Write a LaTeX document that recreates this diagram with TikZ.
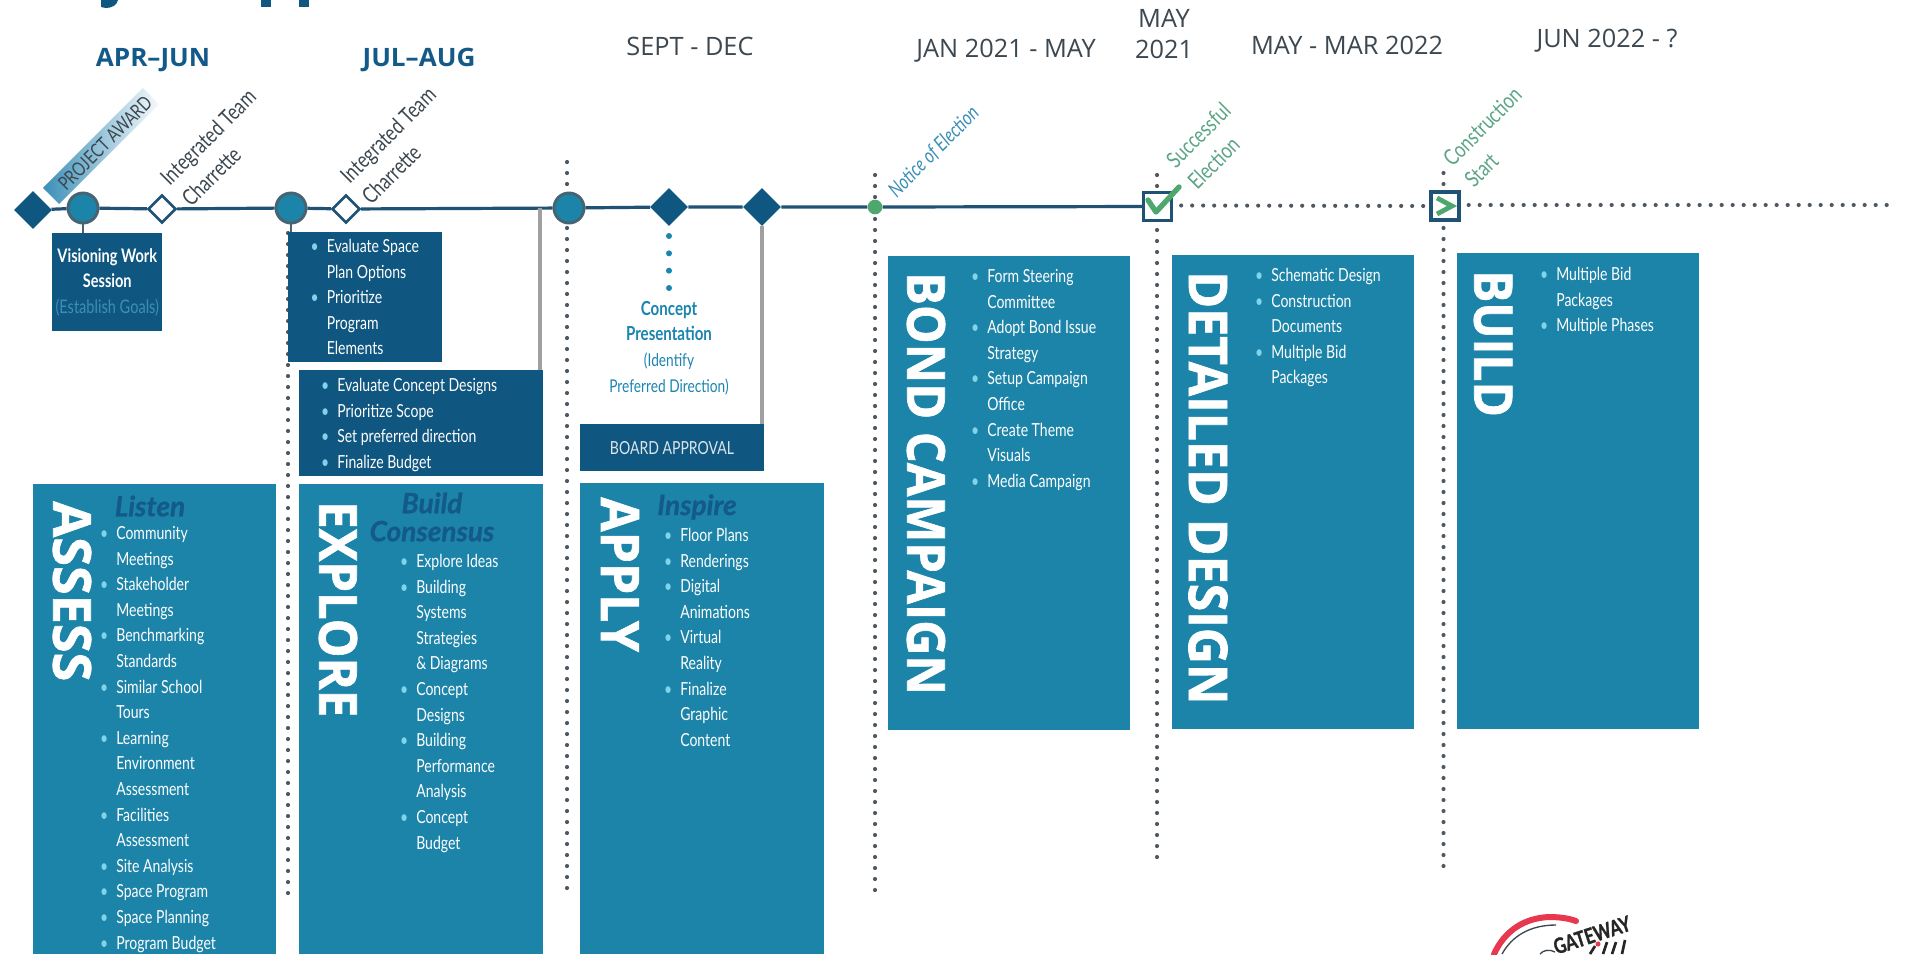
\documentclass[tikz,border=0pt]{standalone}
\usepackage{fontspec}
\usetikzlibrary{shapes.geometric,backgrounds}
\newfontfamily\cond[FakeStretch=0.78]{Lato}
\newfontfamily\subf[FakeStretch=1.0,FakeBold=0.8]{Lato}
\newfontfamily\headf[FakeStretch=1.0]{Open Sans}
\newfontfamily\boldf[FakeStretch=1.03]{Open Sans}
\newfontfamily\titlef[FakeBold=1.3]{Open Sans}
\newfontfamily\logof[FakeStretch=0.78,FakeBold=1.2]{Lato}
\definecolor{teal1}{HTML}{1B84A8}
\definecolor{navy1}{HTML}{0F5680}
\definecolor{line1}{HTML}{1F5275}
\definecolor{ring1}{HTML}{466472}
\definecolor{dot1}{HTML}{4F5860}
\definecolor{bull}{HTML}{7FD3EA}
\definecolor{sub1}{HTML}{145A88}
\definecolor{gray1}{HTML}{A0A0A0}
\definecolor{lab1}{HTML}{3C4750}
\definecolor{grn1}{HTML}{4EA86E}
\definecolor{grn2}{HTML}{5AA583}
\definecolor{blu1}{HTML}{3B8FB8}
\definecolor{con1}{HTML}{1B85B0}
\definecolor{red1}{HTML}{E8384F}
\newcommand\bi[1]{\llap{\textcolor{bull}{•}\hspace{6pt}}#1}
\tikzset{
  tealbox/.style={fill=teal1,draw=none,inner sep=0},
  navybox/.style={fill=navy1,draw=none,inner sep=0},
  lst/.style={anchor=north west,inner sep=0,align=left,text=white,font=\cond\fontsize{13.5pt}{19.2pt}\selectfont},
  vtitle/.style={anchor=west,rotate=-90,inner sep=0,text=white,font=\titlef\bfseries\fontsize{40pt}{40pt}\selectfont},
  bigdate/.style={inner sep=0,text=sub1,font=\boldf\bfseries\fontsize{19pt}{19pt}\selectfont},
  plaindate/.style={inner sep=0,text=lab1,font=\headf\fontsize{19pt}{23.5pt}\selectfont,align=center},
  milestone/.style={inner sep=0,rotate=45,align=left,font=\cond\fontsize{16.8pt}{22.8pt}\selectfont},
  subhead/.style={inner sep=0,text=sub1,align=center,font=\subf\bfseries\itshape\fontsize{21pt}{21pt}\selectfont},
  bigd/.style={diamond,fill=navy1,inner sep=0,minimum width=28.5pt,minimum height=28.5pt},
  whited/.style={diamond,fill=white,draw=line1,line width=1.9pt,inner sep=0,minimum width=21pt,minimum height=21pt},
  bigc/.style={circle,fill=teal1,draw=ring1,line width=2.2pt,inner sep=0,minimum size=22.5pt},
  sqbox/.style={rectangle,fill=white,draw=line1,line width=2.5pt,inner sep=0,minimum size=21pt},
  tl/.style={draw=line1,line width=2.4pt},
  dotv/.style={draw=dot1,line width=3.1pt,line cap=round,dash pattern=on 0pt off 8.25pt},
  grayv/.style={draw=gray1,line width=3pt},
}
\begin{document}
\begin{tikzpicture}[x=0.75pt,y=-0.75pt]
\useasboundingbox (0,0) rectangle (1912,954);
\begin{scope}[on background layer]
\fill[white] (0,0) rectangle (1912,954);
\end{scope}
\clip (0,0) rectangle (1912,954);

% cut-off title fragments
\fill[navy1] (101,0) -- (118,0) .. controls (117,5) and (112,8) .. (106,8) -- (101,7) -- cycle;
\fill[navy1] (261,0) rectangle (271,7);
\fill[navy1] (299,0) rectangle (309,7);

% dates
\node[bigdate] (d1) at (153,60) {APR–JUN};
\node[bigdate] (d2) at (419,60) {JUL–AUG};
\node[plaindate] (d3) at (690,46) {SEPT - DEC};
\node[plaindate] (d4) at (1006,51) {JAN 2021 - MAY};
\node[plaindate] (d5) at (1164,34) {MAY\\2021};
\node[plaindate] (d6) at (1347,45) {MAY - MAR 2022};
\node[plaindate] (d7) at (1607,41) {JUN 2022 - ?};

% boxes
\path[tealbox] (33,484) rectangle (276,954);
\path[tealbox] (299,484) rectangle (543,954);
\path[tealbox] (580,483) rectangle (824,954);
\node[tealbox,minimum width=181pt,minimum height=355.5pt,anchor=north west] (bond) at (888,256) {};
\node[tealbox,minimum width=181pt,minimum height=355.5pt,anchor=north west] (detail) at (1172,255) {};
\node[tealbox,minimum width=181.5pt,minimum height=356.5pt,anchor=north west] (build) at (1457,253) {};
\node[navybox,minimum width=82.5pt,minimum height=73.5pt,anchor=north west] (vis) at (52,233) {};
\node[navybox,minimum width=115.5pt,minimum height=97.5pt,anchor=north west] (evalb) at (288,232) {};
\node[navybox,minimum width=182.5pt,minimum height=79pt,anchor=north west] (concb) at (299,370) {};
\node[navybox,minimum width=138pt,minimum height=35pt,anchor=north west] (board) at (580,424) {};

% timeline nodes
\node[bigd] (m0) at (33,210) {};
\node[bigc] (c1) at (83,208) {};
\node[whited] (w1) at (162,209) {};
\node[bigc] (c2) at (291,208) {};
\node[whited] (w2) at (346,209) {};
\node[bigc] (c3) at (569,208) {};
\node[bigd] (m1) at (669,207) {};
\node[bigd] (m2) at (762,207) {};
\node[circle,fill=grn1,inner sep=0,minimum size=11pt] (g1) at (875,207) {};
\node[sqbox] (s1) at (1157.5,206.5) {};
\node[sqbox] (s2) at (1445,206) {};
\coordinate (tend) at (1896,205);
\coordinate (t1) at (540,208);

% connectors
\begin{scope}[on background layer]
  \draw[dotv] (288,233) -- (288,897);
  \draw[dotv] (567,162) -- (567,897);
  \draw[dotv] (875,175) -- (875,897);
  \draw[dotv] (1157,175) -- (1157,867);
  \draw[dotv] (1443.5,173) -- (1443.5,867);
  \draw[tl] (m0) -- (c1) -- (w1) -- (c2) -- (w2) -- (c3) -- (m1) -- (m2) -- (g1) -- (s1);
  \draw[grayv] (t1) -- (concb.north -| t1);
  \draw[grayv] (m2) -- (board.north -| m2);
  \draw[draw=ring1,line width=2.2pt] (c1) -- (vis.north -| c1);
  \draw[draw=ring1,line width=2.2pt] (c2.south) -- (evalb.north -| c2);
\end{scope}
\draw[dotv] (s1.east) ++(8,-1) -- (s2.west);
\draw[dotv] (s2.east) ++(8,-1) -- (tend);
\coordinate (dtop) at (669,236);
\coordinate (dbot) at (669,290);
\draw[draw=con1,line width=4.5pt,line cap=round,dash pattern=on 0pt off 13pt] (dtop) -- (dbot);

% check and chevron
\draw[grn1,line width=4pt,line cap=round,line join=round] (1148,200) -- (1156,212) -- (1179,187);
\draw[grn1,line width=3.6pt,line join=miter] (1437,198) -- (1452,206) -- (1437,214);

% milestone labels
\node[rotate=45,inner sep=0,minimum width=106pt,minimum height=17pt,left color=blu1,right color=blu1!5] (pa) at (101,146) {};
\node[milestone,text=lab1,font=\cond\fontsize{14.5pt}{18pt}\selectfont] (pat) at (105,143) {PROJECT AWARD};
\node[milestone,text=lab1] (it1) at (218.6,147.6) {Integrated Team\\Charrette};
\node[milestone,text=lab1] (it2) at (398.6,145.6) {Integrated Team\\Charrette};
\node[milestone,text=blu1,font=\cond\fontsize{15.5pt}{18pt}\selectfont] (ne) at (934,152) {\itshape Notice of Election};
\node[milestone,text=grn2] (se) at (1209,146) {Successful\\Election};
\node[milestone,text=grn2] (cs) at (1493,137) {Construction\\Start};

% dark boxes text
\node[inner sep=0,align=center,text=white,font=\cond\bfseries\fontsize{14pt}{19.2pt}\selectfont] (vt) at (vis.center) {Visioning Work\\Session\\{\mdseries\color{blu1}(Establish Goals)}};
\node[lst] (el) at (326.5,239) {\bi{Evaluate Space}\\Plan Options\\\bi{Prioritize}\\Program\\Elements};
\node[lst] (cl) at (337,378) {\bi{Evaluate Concept Designs}\\\bi{Prioritize Scope}\\\bi{Set preferred direction}\\\bi{Finalize Budget}};
\node[inner sep=0,text=white!85!navy1,font=\cond\fontsize{13.5pt}{16pt}\selectfont] (bt) at (672,448) {BOARD APPROVAL};
\node[inner sep=0,align=center,text=con1,font=\cond\fontsize{14.5pt}{19.2pt}\selectfont] (cp) at (669,348) {{\bfseries Concept}\\{\bfseries Presentation}\\{\fontsize{13.2pt}{19.2pt}\selectfont (Identify}\\{\fontsize{13.2pt}{19.2pt}\selectfont Preferred Direction)}};

% vertical titles
\node[vtitle] (t-as) at (72,501) {\resizebox{135pt}{28.5pt}{ASSESS}};
\node[vtitle] (t-ex) at (338,501) {\resizebox{162pt}{28.5pt}{EXPLORE}};
\node[vtitle] (t-ap) at (620,497) {\resizebox{116pt}{28.5pt}{APPLY}};
\node[vtitle] (t-bo) at (926,272) {\resizebox{317pt}{28.5pt}{BOND CAMPAIGN}};
\node[vtitle] (t-de) at (1208,271) {\resizebox{325pt}{29pt}{DETAILED DESIGN}};
\node[vtitle] (t-bu) at (1493,270) {\resizebox{110pt}{28.5pt}{BUILD}};

% sub heads
\node[subhead] (s-li) at (150,506) {Listen};
\node[subhead] (s-bc) at (432,517) {Build\\Consensus};
\node[subhead] (s-in) at (697,507) {Inspire};

% lists
\node[lst] (l-as) at (116,526) {\bi{Community}\\Meetings\\\bi{Stakeholder}\\Meetings\\\bi{Benchmarking}\\Standards\\\bi{Similar School}\\Tours\\\bi{Learning}\\Environment\\Assessment\\\bi{Facilities}\\Assessment\\\bi{Site Analysis}\\\bi{Space Program}\\\bi{Space Planning}\\\bi{Program Budget}};
\node[lst] (l-ex) at (416,554) {\bi{Explore Ideas}\\\bi{Building}\\Systems\\Strategies\\\& Diagrams\\\bi{Concept}\\Designs\\\bi{Building}\\Performance\\Analysis\\\bi{Concept}\\Budget};
\node[lst] (l-ap) at (680,528) {\bi{Floor Plans}\\\bi{Renderings}\\\bi{Digital}\\Animations\\\bi{Virtual}\\Reality\\\bi{Finalize}\\Graphic\\Content};
\node[lst] (l-bo) at (987,269) {\bi{Form Steering}\\Committee\\\bi{Adopt Bond Issue}\\Strategy\\\bi{Setup Campaign}\\Office\\\bi{Create Theme}\\Visuals\\\bi{Media Campaign}};
\node[lst] (l-de) at (1271,268) {\bi{Schematic Design}\\\bi{Construction}\\Documents\\\bi{Multiple Bid}\\Packages};
\node[lst] (l-bu) at (1556,267) {\bi{Multiple Bid}\\Packages\\\bi{Multiple Phases}};

% logo
\draw[red1,line width=4.5pt,line cap=round] (1494,954) .. controls (1505,930) and (1525,918) .. (1549,917) .. controls (1558,917) and (1568,918) .. (1576,921);
\draw[lab1,line width=1pt] (1502,954) .. controls (1512,936) and (1530,925) .. (1556,925);
\draw[lab1,line width=1pt] (1540,954) .. controls (1543,950) and (1550,949) .. (1555,952);
\node[inner sep=0,rotate=18,text=black!85,font=\logof\bfseries\fontsize{16pt}{16pt}\selectfont] (gw) at (1592,935) {GATEWAY};
\fill[red1] (1598,944) circle (2.5);
\draw[black!85,line width=2pt] (1590,954) -- (1595,946) (1603,954) -- (1607,942) (1612,954) -- (1616,942) (1622,954) -- (1625,940);
\end{tikzpicture}
\end{document}
